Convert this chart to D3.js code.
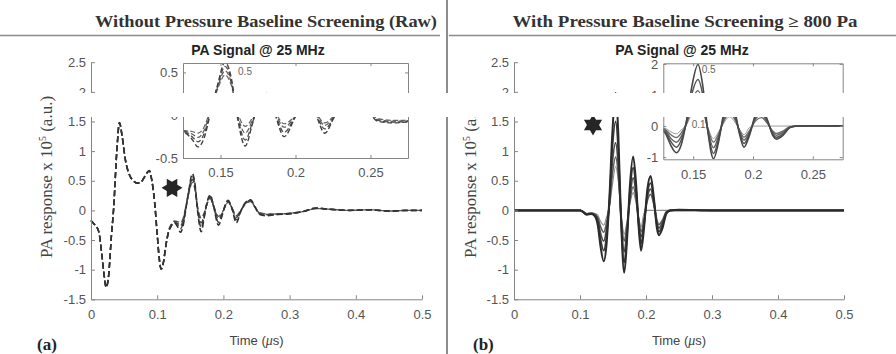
<!DOCTYPE html>
<html>
<head>
<meta charset="utf-8">
<script src="https://cdn.jsdelivr.net/npm/d3@7"></script>
<style>
  body { margin: 0; background: #fff; }
  svg { display: block; }
</style>
</head>
<body>
<div id="rootDiv"></div>
<script>
// tick labels
const timeTicks = [0, 0.1, 0.2, 0.3, 0.4, 0.5]
const responseTicks = [-1.5, -1, -0.5, 0, 0.5, 1, 1.5, 2, 2.5]
const insetTimeTicks = [0.15, 0.2, 0.25]
const rawInsetTicks = [-0.5, 0, 0.5]
const screenedInsetTicks = [-1, 0, 1, 2]

// (a) raw signal, shared start of every trace
const rawEarlyT = [0, 0.004, 0.0115, 0.0166, 0.02, 0.023, 0.0266, 0.031, 0.034, 0.039, 0.043, 0.047, 0.052, 0.058, 0.064, 0.070, 0.075, 0.080, 0.085, 0.088, 0.092, 0.096, 0.100, 0.103, 0.106, 0.109, 0.113]
const rawEarly = [-0.17, -0.22, -0.35, -0.77, -1.11, -1.30, -1.1, -0.4, 0.0, 1.0, 1.48, 1.25, 0.85, 0.6, 0.5, 0.46, 0.47, 0.55, 0.64, 0.67, 0.5, 0.15, -0.4, -0.8, -0.99, -0.9, -0.6]

// (a) raw signal, the traces split after ~0.115 us
const rawLateT = [0.117, 0.121, 0.126, 0.131, 0.135, 0.139, 0.143, 0.148, 0.153, 0.157, 0.161, 0.1665, 0.171, 0.175, 0.180, 0.185, 0.1925, 0.199, 0.203, 0.207, 0.213, 0.2195, 0.226, 0.233, 0.241, 0.248, 0.255, 0.265, 0.28, 0.30, 0.32, 0.34, 0.36, 0.39, 0.42, 0.45, 0.48, 0.50]
const rawLateA = [-0.38, -0.27, -0.21, -0.28, -0.37, -0.27, 0.0, 0.35, 0.62, 0.45, 0.0, -0.36, -0.12, 0.12, 0.26, 0.08, -0.25, -0.05, 0.1, 0.17, 0.03, -0.21, -0.02, 0.13, 0.18, 0.05, -0.07, -0.09, -0.07, -0.06, -0.02, 0.04, 0.02, 0.0, 0.01, -0.01, 0.0, 0.0]
const rawLateB = [-0.37, -0.26, -0.2, -0.25, -0.31, -0.22, 0.02, 0.34, 0.57, 0.42, 0.02, -0.29, -0.1, 0.11, 0.24, 0.08, -0.2, -0.04, 0.09, 0.16, 0.03, -0.16, -0.02, 0.12, 0.17, 0.05, -0.06, -0.08, -0.07, -0.05, -0.02, 0.04, 0.02, 0.0, 0.01, -0.01, 0.0, 0.0]
const rawLateC = [-0.36, -0.25, -0.19, -0.22, -0.26, -0.18, 0.03, 0.32, 0.52, 0.39, 0.04, -0.21, -0.07, 0.1, 0.22, 0.08, -0.14, -0.03, 0.08, 0.15, 0.04, -0.12, -0.01, 0.11, 0.16, 0.05, -0.05, -0.07, -0.06, -0.05, -0.02, 0.03, 0.02, 0.0, 0.01, -0.01, 0.0, 0.0]
const rawLateD = [-0.35, -0.24, -0.18, -0.19, -0.21, -0.14, 0.05, 0.3, 0.47, 0.36, 0.06, -0.13, -0.04, 0.1, 0.2, 0.08, -0.1, -0.02, 0.07, 0.14, 0.04, -0.09, 0.0, 0.1, 0.15, 0.05, -0.04, -0.06, -0.06, -0.05, -0.02, 0.03, 0.02, 0.0, 0.01, -0.01, 0.0, 0.0]

// (b) screened signal, "0.5" trace (A) down to "0.1" trace (E)
const screenedT = [0, 0.05, 0.100, 0.104, 0.110, 0.117, 0.122, 0.127, 0.131, 0.136, 0.140, 0.1445, 0.149, 0.154, 0.158, 0.162, 0.167, 0.171, 0.1755, 0.1805, 0.185, 0.189, 0.1925, 0.197, 0.202, 0.207, 0.212, 0.2165, 0.2195, 0.225, 0.231, 0.237, 0.25, 0.3, 0.4, 0.5]
const screenedA = [0, 0, 0, -0.02, -0.07, -0.06, -0.09, -0.25, -0.6, -0.86, -0.6, 0.2, 1.3, 1.98, 1.3, -0.1, -1.05, -0.55, 0.4, 0.91, 0.45, -0.3, -0.68, -0.3, 0.35, 0.58, 0.2, -0.3, -0.42, -0.3, -0.05, 0, 0.01, 0, 0, 0]
const screenedB = [0, 0, 0, -0.02, -0.07, -0.06, -0.08, -0.2, -0.48, -0.68, -0.45, 0.15, 1.05, 1.5, 1.0, -0.1, -0.88, -0.45, 0.3, 0.72, 0.35, -0.25, -0.56, -0.25, 0.28, 0.46, 0.16, -0.25, -0.36, -0.25, -0.04, 0, 0.01, 0, 0, 0]
const screenedC = [0, 0, 0, -0.02, -0.06, -0.05, -0.07, -0.15, -0.38, -0.52, -0.33, 0.1, 0.8, 1.14, 0.75, -0.08, -0.7, -0.35, 0.2, 0.55, 0.27, -0.2, -0.45, -0.2, 0.22, 0.36, 0.12, -0.2, -0.3, -0.2, -0.03, 0, 0, 0, 0, 0]
const screenedD = [0, 0, 0, -0.02, -0.06, -0.05, -0.06, -0.12, -0.27, -0.37, -0.22, 0.08, 0.6, 0.9, 0.6, -0.05, -0.52, -0.27, 0.15, 0.4, 0.2, -0.15, -0.36, -0.15, 0.16, 0.27, 0.09, -0.16, -0.24, -0.16, -0.02, 0, 0, 0, 0, 0]
const screenedE = [0, 0, 0, -0.01, -0.05, -0.04, -0.05, -0.08, -0.18, -0.25, -0.12, 0.05, 0.42, 0.74, 0.5, -0.02, -0.4, -0.2, 0.1, 0.3, 0.12, -0.12, -0.28, -0.05, 0, 0, 0, 0, 0, 0, 0, 0, 0, 0, 0, 0]

// star markers and inset trace labels, in data units
const rawStar = [0.1224, 0.38]
const screenedStar = [0.1197, 1.44]
const rawInsetNotes = [{ t: 0.1617, v: 0.47, text: "0.5" }]
const screenedInsetNotes = [{ t: 0.1571, v: 1.71, text: "0.5" }, { t: 0.1487, v: -0.06, text: "0.1" }]

const rawCurves = [rawLateD, rawLateC, rawLateB, rawLateA].map(late =>
    rawEarlyT.map((t, i) => [t, rawEarly[i]]).concat(rawLateT.map((t, i) => [t, late[i]])))
const screenedCurves = [screenedE, screenedD, screenedC, screenedB, screenedA].map(v =>
    screenedT.map((t, i) => [t, v[i]]))

const width = 896
const height = 354
const sans = "'Liberation Sans', Arial, sans-serif"
const serif = "'Liberation Serif', 'Times New Roman', serif"
const axisGray = "#858585"
const labelGray = "#555"

const svg = d3.select("#rootDiv")
    .append("svg")
    .attr("width", width)
    .attr("height", height)

function styleAxis(axis, size) {
    axis.attr("font-family", sans).attr("font-size", size)
    axis.selectAll("path").style("stroke", axisGray)
    axis.selectAll("line").style("stroke", axisGray)
    axis.selectAll("text").style("fill", labelGray)
}

function hexagram(cx, cy, r, rot) {
    const pts = d3.range(12).map(i => {
        const a = rot + i * Math.PI / 6
        const rr = i % 2 ? r / Math.sqrt(3) : r
        return [cx + rr * Math.cos(a), cy + rr * Math.sin(a)]
    })
    return d3.line().curve(d3.curveLinearClosed)(pts)
}

function drawPanel(cfg) {
    const g = svg.append("g")
    const x = d3.scaleLinear().domain([0, 0.5]).range(cfg.xRange)
    const y = d3.scaleLinear().domain([-1.5, 2.5]).range([299.3, 62.2])

    const line = d3.line()
        .x(d => x(d[0]))
        .y(d => y(d[1]))
        .curve(d3.curveMonotoneX)

    // main traces
    g.selectAll("path.trace")
        .data(cfg.curves)
        .enter()
        .append("path")
        .attr("class", "trace")
        .attr("d", line)
        .attr("fill", "none")
        .attr("stroke", (_d, i) => cfg.colors[i])
        .attr("stroke-width", (_d, i) => cfg.widths[i])
        .attr("stroke-dasharray", cfg.dash)

    // axes, ticks pointing inward
    const xAxis = g.append("g")
        .attr("transform", `translate(0,${y(-1.5)})`)
        .call(d3.axisBottom(x).tickValues(timeTicks).tickFormat(d => d)
            .tickSizeInner(-4).tickSizeOuter(0).tickPadding(10))
    const yAxis = g.append("g")
        .attr("transform", `translate(${x(0)},0)`)
        .call(d3.axisLeft(y).tickValues(responseTicks).tickFormat(d => d)
            .tickSizeInner(-4).tickSizeOuter(0).tickPadding(5))
    styleAxis(xAxis, 13)
    styleAxis(yAxis, 13)

    // star marker
    g.append("path")
        .attr("d", hexagram(x(cfg.star[0]), y(cfg.star[1]), 10.5, cfg.starRot))
        .attr("fill", "#262626")

    // axis titles
    const yl = g.append("text")
        .attr("transform", `translate(${cfg.yLabelX},177) rotate(-90)`)
        .attr("text-anchor", "middle")
        .attr("font-family", serif)
        .attr("font-size", 17)
        .attr("fill", "#444")
    yl.append("tspan").text("PA response x 10")
    yl.append("tspan").attr("font-size", 10).attr("dy", -6).text("5")
    yl.append("tspan").attr("dy", 6).text(" (a.u.)")

    const xl = g.append("text")
        .attr("x", (cfg.xRange[0] + cfg.xRange[1]) / 2)
        .attr("y", 345)
        .attr("text-anchor", "middle")
        .attr("font-family", sans)
        .attr("font-size", 13)
        .attr("fill", "#444")
    xl.append("tspan").text("Time (")
    xl.append("tspan").attr("font-family", serif).attr("font-style", "italic").attr("font-size", 14).text("μ")
    xl.append("tspan").text("s)")

    g.append("text")
        .attr("x", cfg.tagX)
        .attr("y", 350)
        .attr("font-family", serif)
        .attr("font-weight", "bold")
        .attr("font-size", 17)
        .attr("fill", "#222")
        .text(cfg.tag)

    // section header
    g.append("text")
        .attr("x", cfg.titleX)
        .attr("y", 27)
        .attr("text-anchor", "middle")
        .attr("font-family", serif)
        .attr("font-weight", "bold")
        .attr("font-size", 16)
        .attr("fill", "#333")
        .attr("textLength", cfg.titleLen)
        .attr("lengthAdjust", "spacingAndGlyphs")
        .text(cfg.title)

    // inset
    const ix = d3.scaleLinear().domain([0.125, 0.275]).range(cfg.inset.xRange)
    const iy = d3.scaleLinear().domain(cfg.inset.yDomain).range(cfg.inset.yRange)
    const ig = svg.append("g")
    const bx = ix.range(), by = iy.range()
    ig.append("rect")
        .attr("x", bx[0]).attr("y", by[1])
        .attr("width", bx[1] - bx[0]).attr("height", by[0] - by[1])
        .attr("fill", "#fff")
    ig.append("clipPath").attr("id", cfg.id + "-clip")
        .append("rect")
        .attr("x", bx[0]).attr("y", by[1])
        .attr("width", bx[1] - bx[0]).attr("height", by[0] - by[1])

    const iline = d3.line()
        .x(d => ix(d[0]))
        .y(d => iy(d[1]))
        .curve(d3.curveMonotoneX)
    ig.append("g")
        .attr("clip-path", `url(#${cfg.id}-clip)`)
        .selectAll("path")
        .data(cfg.curves)
        .enter()
        .append("path")
        .attr("d", iline)
        .attr("fill", "none")
        .attr("stroke", (_d, i) => cfg.inset.colors[i])
        .attr("stroke-width", (_d, i) => cfg.inset.widths[i])
        .attr("stroke-dasharray", cfg.inset.dash)

    const ixAxis = ig.append("g")
        .attr("transform", `translate(0,${by[0]})`)
        .call(d3.axisBottom(ix).tickValues(insetTimeTicks).tickFormat(d => d)
            .tickSizeInner(-3).tickSizeOuter(0).tickPadding(10))
    const iyAxis = ig.append("g")
        .attr("transform", `translate(${bx[0]},0)`)
        .call(d3.axisLeft(iy).tickValues(cfg.inset.ticks).tickFormat(d => d)
            .tickSizeInner(-3).tickSizeOuter(0).tickPadding(5))
    const ixTop = ig.append("g")
        .attr("transform", `translate(0,${by[1]})`)
        .call(d3.axisTop(ix).tickValues(insetTimeTicks).tickFormat("")
            .tickSizeInner(-3).tickSizeOuter(0))
    const iyRight = ig.append("g")
        .attr("transform", `translate(${bx[1]},0)`)
        .call(d3.axisRight(iy).tickValues(cfg.inset.ticks).tickFormat("")
            .tickSizeInner(-3).tickSizeOuter(0))
    for (const axis of [ixAxis, iyAxis, ixTop, iyRight]) styleAxis(axis, 13)

    ig.selectAll("text.note")
        .data(cfg.inset.notes)
        .enter()
        .append("text")
        .attr("class", "note")
        .attr("x", d => ix(d.t))
        .attr("y", d => iy(d.v))
        .attr("font-family", sans)
        .attr("font-size", 10)
        .attr("fill", "#666")
        .text(d => d.text)

    ig.append("text")
        .attr("x", cfg.inset.titleX)
        .attr("y", 55)
        .attr("text-anchor", "middle")
        .attr("font-family", sans)
        .attr("font-weight", "bold")
        .attr("font-size", 14)
        .attr("fill", "#222")
        .text("PA Signal @ 25 MHz")
}

drawPanel({
    id: "raw",
    xRange: [91, 422],
    curves: rawCurves,
    colors: ["#555", "#4a4a4a", "#3f3f3f", "#333"],
    widths: [1.4, 1.4, 1.5, 1.6],
    dash: "6,3",
    star: rawStar,
    starRot: 0,
    yLabelX: 52,
    tag: "(a)",
    tagX: 37,
    title: "Without Pressure Baseline Screening (Raw)",
    titleX: 266,
    titleLen: 342,
    inset: {
        xRange: [183, 408],
        yDomain: [-0.5, 0.61],
        yRange: [158, 63],
        ticks: rawInsetTicks,
        colors: ["#666", "#5a5a5a", "#4d4d4d", "#404040"],
        widths: [1.2, 1.2, 1.3, 1.4],
        dash: "5,2.5",
        notes: rawInsetNotes,
        titleX: 258
    }
})

drawPanel({
    id: "screened",
    xRange: [514, 844],
    curves: screenedCurves,
    colors: ["#8a8a8a", "#5e5e5e", "#4a4a4a", "#3a3a3a", "#2b2b2b"],
    widths: [1.1, 1.6, 1.7, 1.8, 2],
    dash: null,
    star: screenedStar,
    starRot: Math.PI / 2,
    yLabelX: 476,
    tag: "(b)",
    tagX: 473,
    title: "With Pressure Baseline Screening \u2265 800 Pa",
    titleX: 685,
    titleLen: 345,
    inset: {
        xRange: [663.3, 842.7],
        yDomain: [-1.07, 2.02],
        yRange: [159.3, 63.3],
        ticks: screenedInsetTicks,
        colors: ["#999", "#6e6e6e", "#606060", "#545454", "#474747"],
        widths: [1, 1.4, 1.4, 1.5, 1.6],
        dash: null,
        notes: screenedInsetNotes,
        titleX: 682
    }
})

// header rules and panel divider
svg.append("line").attr("x1", 0).attr("x2", 440).attr("y1", 35.5).attr("y2", 35.5)
    .attr("stroke", "#8c8c8c").attr("stroke-width", 1.5)
svg.append("line").attr("x1", 449).attr("x2", width).attr("y1", 35.5).attr("y2", 35.5)
    .attr("stroke", "#8c8c8c").attr("stroke-width", 1.5)
svg.append("line").attr("x1", 447).attr("x2", 447).attr("y1", 0).attr("y2", height)
    .attr("stroke", "#8c8c8c").attr("stroke-width", 2)

// blank strip across the figure
svg.append("rect")
    .attr("x", 64).attr("y", 93)
    .attr("width", width - 64).attr("height", 24)
    .attr("fill", "#fff")
</script>
</body>
</html>
